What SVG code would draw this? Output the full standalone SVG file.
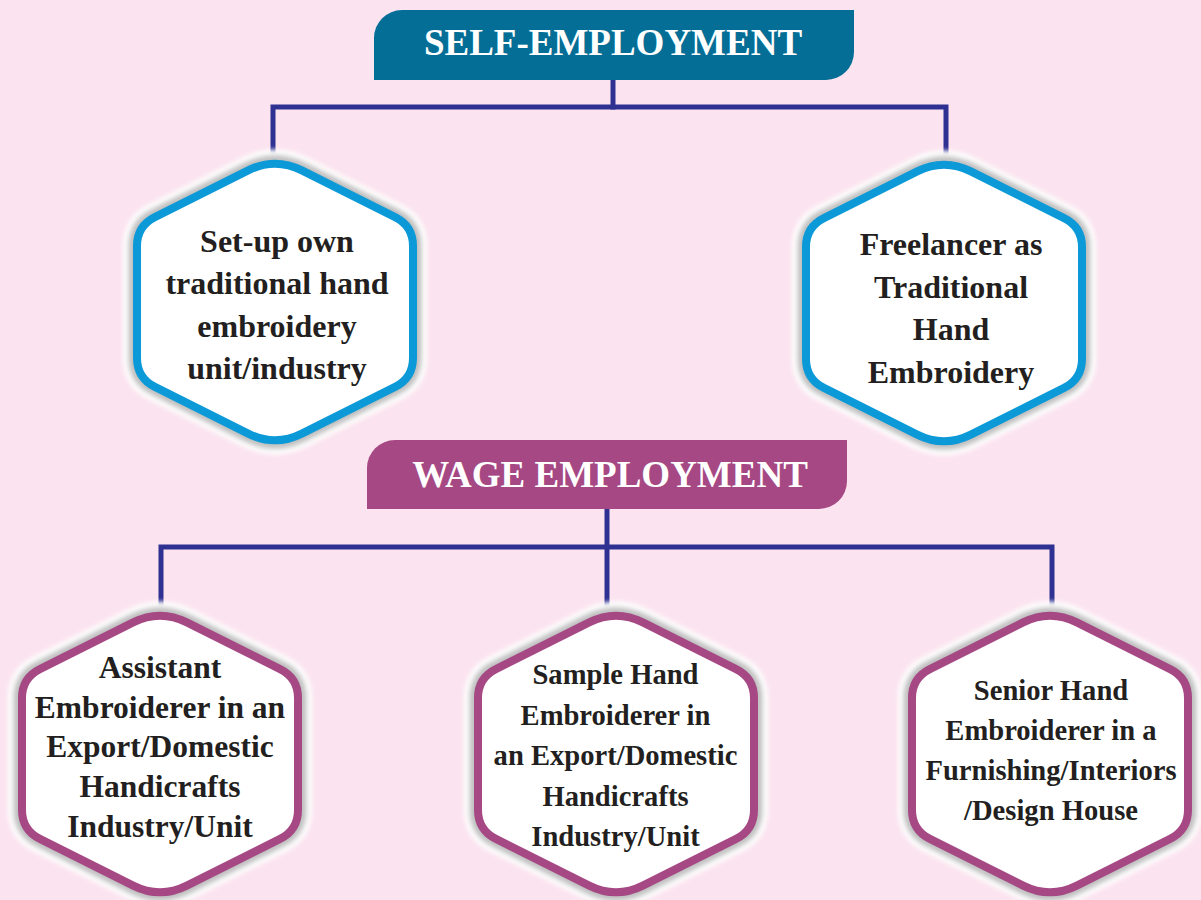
<svg xmlns="http://www.w3.org/2000/svg" xmlns:xlink="http://www.w3.org/1999/xlink" width="1201" height="900" viewBox="0 0 1201 900">
<defs>
<style>
.bg{fill:#fbe4ef}
.conn{fill:none;stroke:#2e3192;stroke-width:5;stroke-linecap:square;stroke-linejoin:miter}
.halo{fill:none;stroke:#ffffff;stroke-width:28;filter:url(#soft)}
.shade{fill:none;stroke:#8a8a8a;stroke-width:17;stroke-opacity:0.55;filter:url(#soft2)}
.face{fill:#ffffff;stroke:none}
.blue{fill:none;stroke:#0c99d8;stroke-width:8}
.purple{fill:none;stroke:#a54884;stroke-width:8}
.ht{font-family:"Liberation Serif","Times New Roman",serif;font-weight:bold;fill:#ffffff;text-anchor:middle}
.nt{font-family:"Liberation Serif","Times New Roman",serif;font-weight:bold;fill:#231f20;text-anchor:middle}
</style>
<filter id="soft" x="-20%" y="-20%" width="140%" height="140%"><feGaussianBlur stdDeviation="2"/></filter>
<filter id="soft2" x="-20%" y="-20%" width="140%" height="140%"><feGaussianBlur stdDeviation="2.5"/></filter>
<path id="hex" d="M-26.8,-131.6 Q0,-145 26.8,-131.6 L120.1,-84.9 Q138,-76 138,-56 L138,56 Q138,76 120.1,84.9 L26.8,131.6 Q0,145 -26.8,131.6 L-120.1,84.9 Q-138,76 -138,56 L-138,-56 Q-138,-76 -120.1,-84.9 Z"/>
</defs>
<rect class="bg" x="0" y="0" width="1201" height="900"/>

<g id="connectors">
<path class="conn" d="M613,80 V107"/>
<path class="conn" d="M273,160 V107 H946 V160"/>
<path class="conn" d="M607,509 V612"/>
<path class="conn" d="M161,612 V547 H1052 V612"/>
</g>

<g id="self-employment">
<path d="M374,80 V38 A28,28 0 0 1 402,10 H854 V52 A28,28 0 0 1 826,80 Z" fill="#046e96"/>
<text class="ht" x="613" y="55" font-size="37">SELF-EMPLOYMENT</text>
</g>

<g id="node-setup">
<g transform="translate(275,302)">
<use xlink:href="#hex" class="halo"/>
<use xlink:href="#hex" class="shade"/>
<use xlink:href="#hex" class="face"/>
<use xlink:href="#hex" class="blue"/>
</g>
<text class="nt" font-size="32"><tspan x="277" y="252">Set-up own</tspan><tspan x="277" y="294">traditional hand</tspan><tspan x="277" y="336.5">embroidery</tspan><tspan x="277" y="379">unit/industry</tspan></text>
</g>

<g id="node-freelancer">
<g transform="translate(944,303)">
<use xlink:href="#hex" class="halo"/>
<use xlink:href="#hex" class="shade"/>
<use xlink:href="#hex" class="face"/>
<use xlink:href="#hex" class="blue"/>
</g>
<text class="nt" font-size="32"><tspan x="951" y="255">Freelancer as</tspan><tspan x="951" y="297.5">Traditional</tspan><tspan x="951" y="340">Hand</tspan><tspan x="951" y="382.5">Embroidery</tspan></text>
</g>

<g id="wage-employment">
<path d="M367,509 V468 A28,28 0 0 1 395,440 H847 V481 A28,28 0 0 1 819,509 Z" fill="#a54884"/>
<text class="ht" x="610" y="487" font-size="37">WAGE EMPLOYMENT</text>
</g>

<g id="node-assistant">
<g transform="translate(160,754)">
<use xlink:href="#hex" class="halo"/>
<use xlink:href="#hex" class="shade"/>
<use xlink:href="#hex" class="face"/>
<use xlink:href="#hex" class="purple"/>
</g>
<text class="nt" font-size="31.5"><tspan x="160" y="678">Assistant</tspan><tspan x="160" y="718">Embroiderer in an</tspan><tspan x="160" y="757">Export/Domestic</tspan><tspan x="160" y="797">Handicrafts</tspan><tspan x="160" y="837">Industry/Unit</tspan></text>
</g>

<g id="node-sample">
<g transform="translate(616,754)">
<use xlink:href="#hex" class="halo"/>
<use xlink:href="#hex" class="shade"/>
<use xlink:href="#hex" class="face"/>
<use xlink:href="#hex" class="purple"/>
</g>
<text class="nt" font-size="28.6"><tspan x="615.5" y="684">Sample Hand</tspan><tspan x="615.5" y="724.5">Embroiderer in</tspan><tspan x="615.5" y="765">an Export/Domestic</tspan><tspan x="615.5" y="805.5">Handicrafts</tspan><tspan x="615.5" y="846">Industry/Unit</tspan></text>
</g>

<g id="node-senior">
<g transform="translate(1050,754)">
<use xlink:href="#hex" class="halo"/>
<use xlink:href="#hex" class="shade"/>
<use xlink:href="#hex" class="face"/>
<use xlink:href="#hex" class="purple"/>
</g>
<text class="nt" font-size="28.6"><tspan x="1051" y="700">Senior Hand</tspan><tspan x="1051" y="740">Embroiderer in a</tspan><tspan x="1051" y="780">Furnishing/Interiors</tspan><tspan x="1051" y="820">/Design House</tspan></text>
</g>
</svg>
